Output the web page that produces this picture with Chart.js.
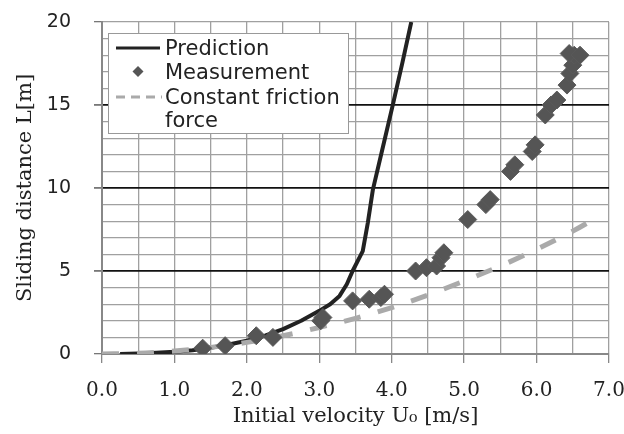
<!DOCTYPE html>
<html>
<head>
<meta charset="utf-8">
<script src="https://cdn.jsdelivr.net/npm/chart.js@4"></script>
<style>
  body { margin: 0; background: #fff; }
  #wrap { width: 624px; height: 434px; }
</style>
</head>
<body>
<div id="wrap"><canvas id="myChart" width="624" height="434"></canvas></div>
<script>
// prediction curve (black solid)
const predU = [0.25, 0.5, 0.75, 1.0, 1.25, 1.5, 1.75, 2.0, 2.25, 2.5, 2.75, 3.0, 3.15, 3.28, 3.38, 3.46, 3.6, 3.67, 3.74, 3.88, 4.02, 4.15, 4.27]
const predL = [0, 0.03, 0.07, 0.13, 0.23, 0.38, 0.57, 0.8, 1.1, 1.5, 2.0, 2.6, 3.0, 3.5, 4.2, 5.0, 6.2, 7.9, 9.9, 12.5, 15.1, 17.6, 20]

// measurement points (diamonds)
const measU = [1.39, 1.70, 2.13, 2.36, 3.02, 3.05, 3.46, 3.69, 3.85, 3.90, 4.33, 4.48, 4.62, 4.68, 4.72, 5.05, 5.30, 5.36, 5.64, 5.70, 5.94, 5.98, 6.12, 6.20, 6.28, 6.42, 6.46, 6.50, 6.52, 6.45, 6.60]
const measL = [0.35, 0.5, 1.1, 1.0, 2.0, 2.2, 3.2, 3.3, 3.4, 3.6, 5.0, 5.2, 5.3, 5.8, 6.1, 8.1, 9.0, 9.3, 11.0, 11.4, 12.2, 12.6, 14.4, 15.0, 15.3, 16.2, 16.9, 17.4, 18.0, 18.1, 18.0]

// constant friction force (gray dashed)
const constU = [0, 0.5, 1.0, 1.5, 2.0, 2.5, 3.0, 3.5, 4.0, 4.5, 5.0, 5.5, 6.0, 6.5, 6.9]
const constL = [0, 0.04, 0.18, 0.4, 0.7, 1.1, 1.6, 2.15, 2.8, 3.55, 4.4, 5.3, 6.3, 7.4, 8.4]

const legendRows = ['Prediction', 'Measurement', 'Constant friction', 'force']

const toPts = (xs, ys) => xs.map((x, i) => ({x: x, y: ys[i]}))

// legend box drawn by hand (multi line label)
const boxLegend = {
  id: 'boxLegend',
  afterDraw(chart) {
    const ctx = chart.ctx
    ctx.save()
    ctx.fillStyle = '#fff'
    ctx.strokeStyle = '#999'
    ctx.lineWidth = 1
    ctx.fillRect(108, 33, 240, 100)
    ctx.strokeRect(108.5, 33.5, 240, 100)

    // prediction sample
    ctx.strokeStyle = '#222'
    ctx.lineWidth = 3
    ctx.beginPath(); ctx.moveTo(116, 48); ctx.lineTo(160, 48); ctx.stroke()

    // measurement sample
    ctx.fillStyle = '#555'
    ctx.beginPath()
    ctx.moveTo(138, 66); ctx.lineTo(143.5, 71.5); ctx.lineTo(138, 77); ctx.lineTo(132.5, 71.5)
    ctx.closePath(); ctx.fill()

    // constant friction sample
    ctx.strokeStyle = '#aaa'
    ctx.lineWidth = 3
    ctx.setLineDash([9, 6])
    ctx.beginPath(); ctx.moveTo(116, 97); ctx.lineTo(162, 97); ctx.stroke()
    ctx.setLineDash([])

    ctx.fillStyle = '#222'
    ctx.font = '21px "DejaVu Sans"'
    ctx.textBaseline = 'alphabetic'
    const base = [55, 79, 104, 127]
    legendRows.forEach((t, i) => ctx.fillText(t, 165, base[i]))
    ctx.restore()
  }
}

new Chart(document.getElementById('myChart'), {
  type: 'scatter',
  data: {
    datasets: [
      {
        label: 'Prediction',
        type: 'line',
        data: toPts(predU, predL),
        borderColor: '#222',
        borderWidth: 4,
        borderJoinStyle: 'round',
        pointRadius: 0,
        tension: 0,
        fill: false,
        order: 3
      },
      {
        label: 'Constant friction force',
        type: 'line',
        data: toPts(constU, constL),
        borderColor: '#aaa',
        borderWidth: 5,
        borderDash: [17, 18],
        pointRadius: 0,
        cubicInterpolationMode: 'monotone',
        fill: false,
        order: 2
      },
      {
        label: 'Measurement',
        data: toPts(measU, measL),
        pointStyle: 'rectRot',
        pointRadius: 9,
        backgroundColor: '#555',
        borderColor: '#5a5a5a',
        borderWidth: 1,
        order: 1
      }
    ]
  },
  options: {
    responsive: false,
    animation: false,
    devicePixelRatio: 1,
    layout: { padding: { left: 0, top: 22, right: 15, bottom: 0 } },
    plugins: { legend: { display: false }, tooltip: { enabled: false } },
    scales: {
      x: {
        type: 'linear',
        min: 0, max: 7,
        afterFit: (s) => { s.height = 80; s.paddingLeft = 0; s.paddingRight = 0 },
        ticks: {
          stepSize: 0.5,
          autoSkip: false,
          maxRotation: 0,
          padding: 16,
          color: '#222',
          font: { family: '"DejaVu Serif"', size: 20 },
          callback: (v) => Number.isInteger(v) ? v.toFixed(1) : ''
        },
        grid: {
          color: '#a0a0a0',
          lineWidth: 1.3,
          tickLength: 9,
          tickColor: (c) => Number.isInteger(c.tick.value) ? '#888' : 'rgba(0,0,0,0)'
        },
        border: { color: '#888', width: 2 },
        title: {
          display: true,
          text: 'Initial velocity U\u2080 [m/s]',
          color: '#222',
          font: { family: '"DejaVu Serif"', size: 21 },
          padding: { top: 0, bottom: 5 }
        }
      },
      y: {
        min: 0, max: 20,
        afterFit: (s) => { s.width = 102; s.paddingTop = 0; s.paddingBottom = 0 },
        ticks: {
          stepSize: 1,
          autoSkip: false,
          padding: 23,
          color: '#222',
          font: { family: '"DejaVu Sans"', size: 19 },
          callback: (v) => v % 5 === 0 ? v : ''
        },
        grid: {
          color: (c) => (c.tick.value % 5 === 0 && c.tick.value > 0 && c.tick.value < 20) ? '#111' : '#a0a0a0',
          lineWidth: (c) => (c.tick.value % 5 === 0 && c.tick.value > 0 && c.tick.value < 20) ? 1.8 : 1.3,
          tickLength: 8,
          tickColor: (c) => c.tick.value % 5 === 0 ? '#777' : 'rgba(0,0,0,0)'
        },
        border: { color: '#888', width: 2 },
        title: {
          display: true,
          text: 'Sliding distance L[m]',
          color: '#222',
          font: { family: '"DejaVu Serif"', size: 21 },
          padding: { top: 13, bottom: 0 }
        }
      }
    }
  },
  plugins: [boxLegend]
});
</script>
</body>
</html>
